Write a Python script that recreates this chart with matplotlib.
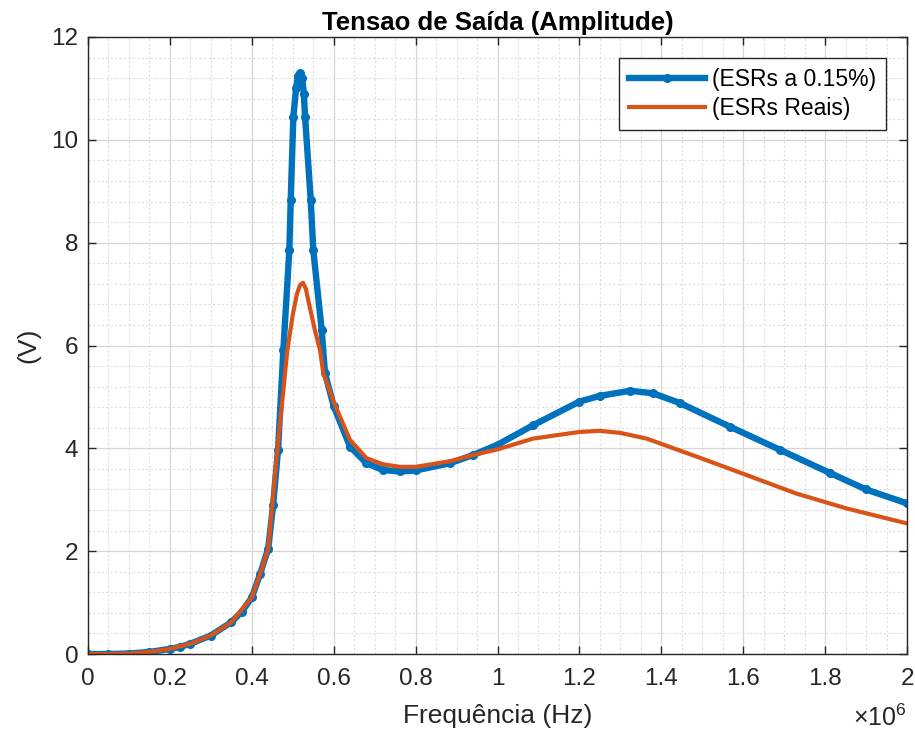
import matplotlib
matplotlib.use("Agg")
import matplotlib.pyplot as plt
from matplotlib.ticker import MultipleLocator, FuncFormatter

plt.rcParams['font.family'] = ['Liberation Sans', 'DejaVu Sans']
plt.rcParams['mathtext.fontset'] = 'custom'
plt.rcParams['mathtext.rm'] = 'Liberation Sans'

# frequencia em MHz (eixo mostrado com x10^6), tensao em V
freq_azul = [0.0, 0.05, 0.1, 0.15, 0.2, 0.225, 0.25, 0.3, 0.35, 0.375, 0.4, 0.42,
             0.44, 0.452, 0.464, 0.477, 0.4916, 0.495, 0.5014, 0.508, 0.513, 0.5177,
             0.523, 0.527, 0.530, 0.5438, 0.550, 0.5706, 0.5787, 0.6, 0.64, 0.68,
             0.72, 0.762, 0.8, 0.884, 0.94, 1.0, 1.087, 1.2, 1.25, 1.3236, 1.38,
             1.4457, 1.5678, 1.69, 1.812, 1.9, 2.0]
tensao_azul = [0.0, 0.0, 0.01, 0.04, 0.1, 0.14, 0.2, 0.36, 0.62, 0.82, 1.1, 1.55,
               2.05, 2.9, 3.97, 5.91, 7.86, 8.83, 10.45, 11.0, 11.25, 11.3,
               11.2, 10.9, 10.45, 8.83, 7.86, 6.3, 5.46, 4.82, 4.03, 3.71,
               3.58, 3.55, 3.57, 3.71, 3.87, 4.07, 4.45, 4.91, 5.02, 5.12, 5.07,
               4.88, 4.42, 3.97, 3.52, 3.2, 2.93]

freq_laranja = [0.0, 0.05, 0.1, 0.15, 0.2, 0.25, 0.3, 0.35, 0.4, 0.42, 0.44, 0.4623,
                0.4868, 0.5, 0.51, 0.518, 0.525, 0.532, 0.54, 0.554, 0.5666, 0.5746,
                0.6, 0.64, 0.68, 0.72, 0.762, 0.8, 0.884, 0.94, 1.0, 1.087, 1.2015,
                1.25, 1.3, 1.364, 1.486, 1.6085, 1.73, 1.853, 2.0]
tensao_laranja = [0.0, 0.0, 0.01, 0.04, 0.1, 0.2, 0.36, 0.62, 1.1, 1.55, 2.05, 3.97,
                  5.91, 6.6, 7.0, 7.18, 7.22, 7.1, 6.8, 6.3, 5.91, 5.46,
                  4.9, 4.16, 3.81, 3.69, 3.64, 3.64, 3.75, 3.87, 3.98, 4.19, 4.32,
                  4.34, 4.3, 4.19, 3.84, 3.48, 3.12, 2.83, 2.54]

fig = plt.figure(figsize=(9.15, 7.31), dpi=100)
ax = fig.add_axes([0.0962, 0.1053, 0.8951, 0.8441])

ax.plot([f * 1e6 for f in freq_azul], tensao_azul, color='#0072BD', linewidth=4.6,
        marker='.', markersize=11, solid_joinstyle='round', label='(ESRs a 0.15%)')
ax.plot([f * 1e6 for f in freq_laranja], tensao_laranja, color='#D95319', linewidth=3.0,
        solid_joinstyle='round', label='(ESRs Reais)')

ax.set_xlim(0, 2e6)
ax.set_ylim(0, 12)
ax.xaxis.set_major_locator(MultipleLocator(0.2e6))
ax.xaxis.set_minor_locator(MultipleLocator(0.05e6))
ax.yaxis.set_major_locator(MultipleLocator(2))
ax.yaxis.set_minor_locator(MultipleLocator(0.4))
ax.xaxis.set_major_formatter(FuncFormatter(lambda v, p: '%g' % (v / 1e6)))
ax.yaxis.set_major_formatter(FuncFormatter(lambda v, p: '%g' % v))

ax.grid(True, which='major', color='#d6d6d6', linewidth=0.9)
ax.grid(True, which='minor', color='#dedede', linestyle=(0, (2, 2)), linewidth=0.8)
ax.set_axisbelow(True)
ax.tick_params(which='major', direction='in', length=6, width=1, top=True, right=True,
               labelsize=17.5, colors='#262626', pad=7)
ax.tick_params(axis='x', which='major', pad=10)
ax.tick_params(which='minor', length=0)
for s in ax.spines.values():
    s.set_color('#262626')
    s.set_linewidth(1.0)

ax.set_title('Tensao de Saída (Amplitude)', fontsize=18.5, fontweight='bold', pad=5)
ax.set_xlabel('Frequência (Hz)', fontsize=19, color='#262626', labelpad=10)
ax.set_ylabel('(V)', fontsize=19, color='#262626', labelpad=8)
ax.text(1.0, -0.082, r'$\times10^{6}$', transform=ax.transAxes, ha='right', va='top',
        fontsize=18, color='#262626')

leg = ax.legend(loc='upper right', fontsize=16.5, handlelength=3.3, fancybox=False,
                edgecolor='#262626', framealpha=1, borderaxespad=0.9, handletextpad=0.3,
                borderpad=0.45, labelspacing=0.25)
leg.get_frame().set_linewidth(1.0)

fig.savefig('out.png', dpi=100)
